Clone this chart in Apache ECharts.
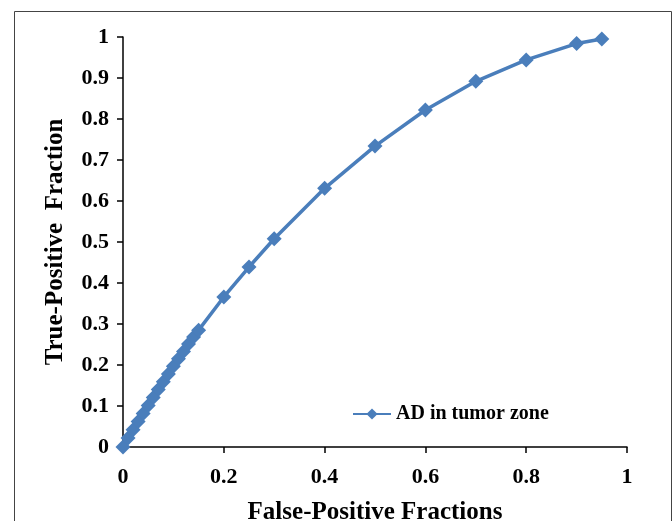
<!DOCTYPE html>
<html>
<head>
<meta charset="utf-8">
<script src="https://cdn.jsdelivr.net/npm/echarts@6/dist/echarts.min.js"></script>
<style>html,body{margin:0;padding:0;background:#fff}#c{width:672px;height:521px}</style>
</head>
<body>
<div id="c"></div>
<script>
const seriesName = 'AD in tumor zone';
const fpf = [0, 0.01, 0.02, 0.03, 0.04, 0.05, 0.06, 0.07, 0.08, 0.09, 0.10, 0.11, 0.12, 0.13, 0.14, 0.15, 0.2, 0.25, 0.3, 0.4, 0.5, 0.6, 0.7, 0.8, 0.9, 0.95];
const tpf = [0, 0.022, 0.042, 0.062, 0.082, 0.101, 0.121, 0.140, 0.159, 0.178, 0.197, 0.215, 0.233, 0.251, 0.268, 0.285, 0.366, 0.439, 0.508, 0.631, 0.734, 0.822, 0.892, 0.944, 0.984, 0.995];
const xTitle = 'False-Positive Fractions';
const yTitle = 'True-Positive  Fraction';

const font = '"Liberation Serif", "Times New Roman", serif';
const color = '#4a7ebb';
const chart = echarts.init(document.getElementById('c'), null, {renderer: 'canvas'});
chart.setOption({
  animation: false,
  backgroundColor: '#fff',
  graphic: [{
    type: 'rect', left: 12, top: 9,
    shape: {width: 657, height: 530},
    style: {fill: 'none', stroke: '#444', lineWidth: 1}
  }],
  grid: {left: 123, right: 45, top: 37, bottom: 74, containLabel: false, outerBoundsMode: 'none'},
  legend: {
    data: [seriesName], left: 347, top: 399,
    itemWidth: 38, itemHeight: 14, itemGap: 3,
    textStyle: {fontFamily: font, fontWeight: 'bold', fontSize: 20, color: '#000'}
  },
  xAxis: {
    type: 'value', min: 0, max: 1, interval: 0.2,
    name: xTitle, nameLocation: 'middle', nameGap: 53,
    nameTextStyle: {fontFamily: font, fontWeight: 'bold', fontSize: 25, color: '#000'},
    axisLine: {lineStyle: {color: '#000', width: 1.5}},
    axisTick: {show: true, inside: false, length: 6, lineStyle: {color: '#000', width: 1.5}},
    axisLabel: {fontFamily: font, fontWeight: 'bold', fontSize: 22, color: '#000', margin: 19,
      formatter: v => String(+v.toFixed(1))},
    splitLine: {show: false}
  },
  yAxis: {
    type: 'value', min: 0, max: 1, interval: 0.1,
    name: yTitle, nameLocation: 'middle', nameGap: 55,
    nameTextStyle: {fontFamily: font, fontWeight: 'bold', fontSize: 25, color: '#000'},
    axisLine: {show: true, lineStyle: {color: '#000', width: 1.5}},
    axisTick: {show: true, inside: false, length: 6, lineStyle: {color: '#000', width: 1.5}},
    axisLabel: {fontFamily: font, fontWeight: 'bold', fontSize: 22, color: '#000', margin: 14,
      formatter: v => String(+v.toFixed(1))},
    splitLine: {show: false}
  },
  series: [{
    name: seriesName, type: 'line',
    data: fpf.map((x, i) => [x, tpf[i]]),
    symbol: 'diamond', symbolSize: 15,
    itemStyle: {color: color},
    lineStyle: {color: color, width: 3.5},
    clip: false
  }]
});
</script>
</body>
</html>
